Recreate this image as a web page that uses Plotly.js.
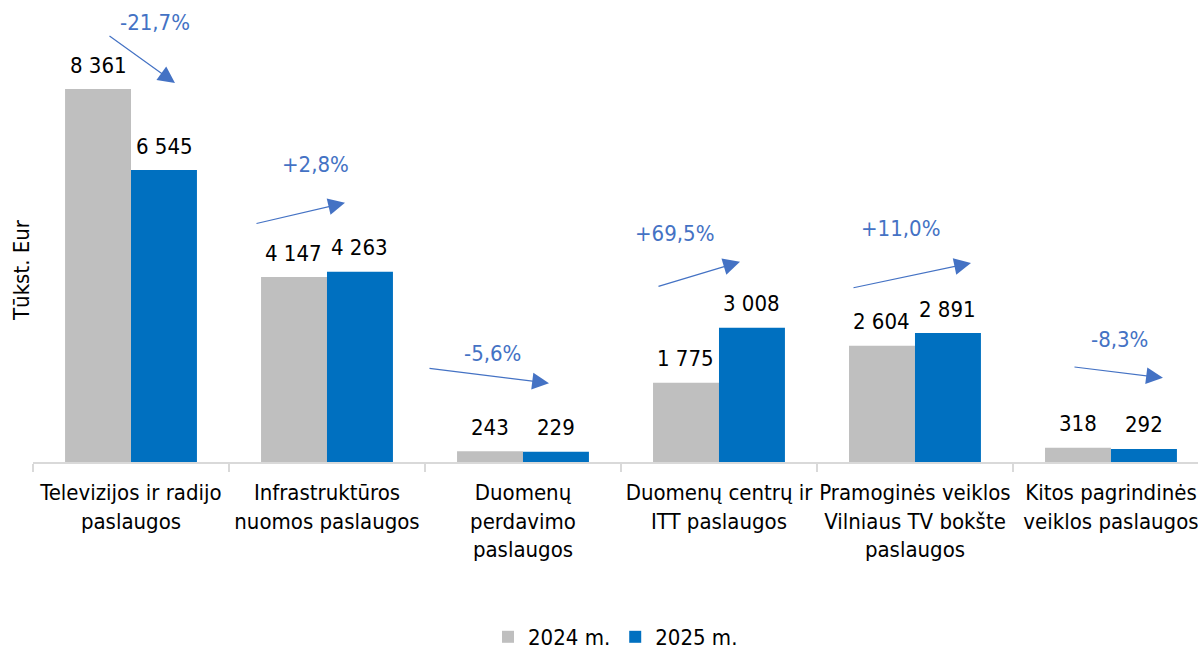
<!DOCTYPE html>
<html><head><meta charset="utf-8">
<script src="https://cdn.plot.ly/plotly-3.0.1.min.js"></script>
<style>html,body{margin:0;padding:0;background:#fff}#chart{width:1198px;height:650px}</style>
</head><body><div id="chart"></div>
<script>
const categories = [
  "Televizijos ir radijo<br>paslaugos",
  "Infrastruktūros<br>nuomos paslaugos",
  "Duomenų<br>perdavimo<br>paslaugos",
  "Duomenų centrų ir<br>ITT paslaugos",
  "Pramoginės veiklos<br>Vilniaus TV bokšte<br>paslaugos",
  "Kitos pagrindinės<br>veiklos paslaugos"
];
const values2024 = [8361, 4147, 243, 1775, 2604, 318];
const values2025 = [6545, 4263, 229, 3008, 2891, 292];
const seriesNames = ["2024 m.", "2025 m."];
const changeLabels = ["-21,7%", "+2,8%", "-5,6%", "+69,5%", "+11,0%", "-8,3%"];
const yTitle = "Tūkst. Eur";

// decorative arrow placement (pixel offsets from category centre / taller bar top)
const arrowPlacement = [
  {hx:44, hy:6,  ax:-67,  ay:-48, tx:24,  ty:67},
  {hx:18, hy:69, ax:-90,  ay:21,  tx:-11, ty:107},
  {hx:26, hy:68, ax:-121, ay:-15, tx:-30, ty:98},
  {hx:21, hy:66, ax:-83,  ay:25,  tx:-44, ty:94},
  {hx:56, hy:70, ax:-119, ay:25,  tx:-14, ty:105},
  {hx:52, hy:70, ax:-90,  ay:-11, tx:9,   ty:108}
];

const FONT = "DejaVu Sans Condensed, DejaVu Sans, sans-serif";
const FS = 22;
const ACCENT = "#4472C4";
const fmt = v => String(v).replace(/\B(?=(\d{3})+(?!\d))/g, " ");

const traces = [
  {type:"bar", name:seriesNames[0], x:categories, y:values2024, marker:{color:"#BFBFBF"}, hoverinfo:"skip"},
  {type:"bar", name:seriesNames[1], x:categories, y:values2025, marker:{color:"#0070C0"}, hoverinfo:"skip"}
];

const annotations = [];
categories.forEach((c, i) => {
  [values2024, values2025].forEach((arr, k) => {
    annotations.push({x:c, y:arr[i], xref:"x", yref:"y", text:fmt(arr[i]), showarrow:false,
      xshift:(k === 0 ? -33 : 33), yshift:24, yanchor:"middle",
      font:{family:FONT, size:FS, color:"#000"}});
  });
  const top = Math.max(values2024[i], values2025[i]);
  const p = arrowPlacement[i];
  annotations.push({x:c, y:top, xref:"x", yref:"y", text:"", showarrow:true,
    xshift:p.hx, yshift:p.hy, ax:p.ax, ay:p.ay, arrowcolor:ACCENT, arrowwidth:1.2,
    arrowhead:2, arrowsize:2.8, standoff:0, startstandoff:0});
  annotations.push({x:c, y:top, xref:"x", yref:"y", text:changeLabels[i], showarrow:false,
    xshift:p.tx, yshift:p.ty, yanchor:"middle", font:{family:FONT, size:FS, color:ACCENT}});
});
annotations.push({xref:"paper", yref:"paper", x:0, y:0.5, xshift:-12, text:yTitle, textangle:-90,
  showarrow:false, xanchor:"center", yanchor:"middle", font:{family:FONT, size:FS, color:"#000"}});

const layout = {
  width:1198, height:650,
  margin:{l:33, r:0, t:78, b:188},
  paper_bgcolor:"#fff", plot_bgcolor:"#fff",
  barmode:"group", bargap:0.327, bargroupgap:0,
  font:{family:FONT, size:FS, color:"#000"},
  showlegend:true,
  legend:{orientation:"h", x:0.5, xanchor:"center", yref:"container", y:0.02, yanchor:"middle",
    font:{family:FONT, size:FS, color:"#000"}, itemwidth:30, tracegroupgap:0},
  xaxis:{type:"category", range:[-0.5, 5.444], showline:true, linecolor:"#D9D9D9", linewidth:1.5,
    ticks:"outside", tickson:"boundaries", ticklen:8, tickcolor:"#D9D9D9", tickwidth:1.5,
    tickangle:0, ticklabelstandoff:10, automargin:false, showgrid:false, zeroline:false, fixedrange:true,
    tickfont:{family:FONT, size:FS, color:"#000"}},
  yaxis:{range:[0, 8608], showticklabels:false, showgrid:false, zeroline:false, showline:false,
    automargin:false, fixedrange:true},
  annotations:annotations
};

Plotly.newPlot("chart", traces, layout, {staticPlot:true, displayModeBar:false});
</script>
</body></html>
